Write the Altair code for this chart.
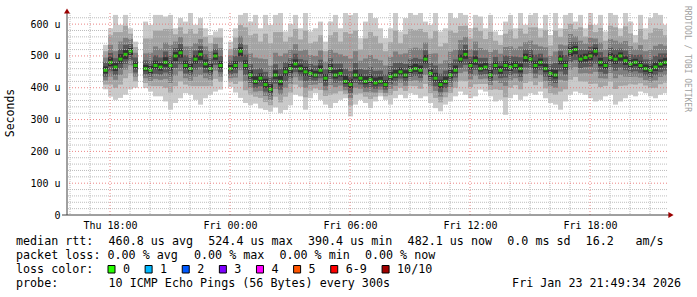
import re
import altair as alt
import pandas as pd

MONO = "DejaVu Sans Mono"

# ---------------- data (microseconds), one column per 15 minutes ----------------
median = [455,480,465,490,505,515,470, None,
 460,455,470,465,480,470,500,510,470,460,490,505,475,460,500,470, None,
 460,470,515,470,440,420,430,410,395,440,420,450,460,
 475,460,450,445,440,455,430,460,440,445,420,410,440,430,420,425,415,420,410,435,440,450,440,455,460,455,490,445,430,410,420,440,455,490,505,470,485,
 460,465,440,470,455,470,465,470,460,495,490,470,480,460,445,440,490,470,515,520,490,495,500,515,480,470,495,490,500,485,475,480,470,460,455,465,475,480]

# lowest and highest ping of each column (absolute)
lo1 = [395,372,362,368,378,395,400, None,
 399,388,373,373,357,331,352,367,383,378,362,347,367,378,388,394, None,
 402,385,368,352,345,350,335,330,325,338,320,330,345,
 378,373,331,367,383,362,347,336,352,362,367,310,347,362,352,336,357,373,362,347,367,378,367,383,378,367,373,352,336,326,347,357,373,388,378,367,373,
 394,388,373,357,362,315,367,378,362,373,383,378,388,367,352,347,331,357,378,388,383,378,367,357,362,373,378,347,357,367,378,373,388,383,373,367,378,383]
hi1 = [535,587,629,598,629,587,545, None,
 608,598,629,629,624,629,587,619,608,635,598,619,587,566,577,587, None,
 545,587,629,635,608,629,587,629,598,629,635,577,600,
 629,587,635,577,587,608,545,608,629,587,635,629,635,556,608,635,619,587,556,587,635,577,619,635,629,635,608,598,635,577,587,635,619,635,629,587,629,
 624,587,629,577,566,608,629,587,635,598,629,635,587,629,566,635,587,629,635,608,629,587,635,598,629,577,635,629,587,635,608,566,629,587,619,635,629,598]

# spread of the inner pings below / above the median
dn2 = [45,70,65,80,75,70,50, None,
 45,50,65,60,80,85,95,90,60,55,85,100,70,55,72,52, None,
 42,58,95,78,62,48,62,55,50,68,66,78,75,
 65,58,80,54,42,62,56,82,58,56,40,66,62,48,48,60,43,36,37,58,50,50,50,50,55,58,78,62,62,56,50,56,55,68,84,68,74,
 48,53,47,75,62,100,65,62,65,80,70,62,62,62,62,62,102,75,90,86,70,76,88,102,78,64,76,94,94,78,64,70,56,53,56,65,64,64]
dn3 = [32,45,40,50,48,45,35, None,
 30,34,42,40,52,55,62,58,40,38,55,65,45,36,46,35, None,
 30,38,60,50,40,32,40,36,34,44,42,50,48,
 42,38,50,36,30,40,38,52,38,38,28,42,40,33,33,39,30,26,26,38,34,34,34,34,37,38,50,40,40,38,34,38,37,44,54,44,47,
 33,36,32,48,40,64,42,40,42,52,45,40,40,40,40,40,65,48,58,55,45,49,56,65,50,41,49,60,60,50,41,45,38,36,38,42,41,41]
dn4 = [20,28,25,30,30,28,22, None,
 18,20,26,24,32,34,38,36,25,22,33,40,28,22,28,21, None,
 18,24,36,30,25,20,25,22,20,27,26,30,29,
 26,24,30,22,18,25,24,32,24,24,17,26,25,20,20,24,18,16,16,24,21,21,21,21,23,24,30,25,25,23,21,23,23,27,33,27,29,
 20,22,20,29,25,38,26,25,26,31,28,25,25,25,25,25,39,29,35,33,28,30,34,39,30,26,30,36,36,30,26,28,23,22,23,26,26,26]
dn5 = [10,12,12,14,15,12,10, None,
 8,10,12,11,14,15,16,15,11,10,14,18,12,10,12,10, None,
 8,11,15,13,11,9,11,10,9,12,12,13,13,
 12,11,13,10,8,11,10,14,11,10,8,12,11,9,9,11,8,7,7,11,9,9,9,9,10,11,13,11,11,10,9,10,10,12,14,12,13,
 9,10,9,13,11,16,12,11,12,14,12,11,11,11,11,11,16,13,15,14,12,13,14,16,13,11,13,15,15,13,11,12,10,10,10,12,11,11]
up5 = [12,15,14,16,14,10,12, None,
 12,14,15,13,16,14,12,13,15,16,12,12,14,15,10,14, None,
 12,14,12,16,15,16,15,18,16,15,18,14,15,
 14,13,16,14,13,15,13,14,16,14,18,18,16,13,16,17,17,15,14,14,16,13,15,15,15,15,13,14,17,15,15,16,15,14,13,13,14,
 15,13,16,12,13,14,15,13,16,12,14,15,12,15,13,16,12,15,13,11,14,12,14,11,14,12,14,14,11,14,14,11,15,13,15,15,14,13]
up4 = [25,30,28,32,30,22,25, None,
 26,30,32,30,34,32,25,28,32,35,27,26,30,32,22,30, None,
 25,30,26,34,34,38,32,40,38,34,40,30,32,
 32,30,36,30,30,33,28,32,36,31,40,42,38,29,36,40,38,34,32,33,38,29,35,35,34,35,28,33,40,34,34,38,34,32,30,28,32,
 34,29,37,27,28,31,34,28,36,26,31,34,27,35,29,38,25,33,29,24,31,24,30,22,32,27,31,31,23,32,30,23,34,29,34,35,33,28]
up3 = [40,55,50,55,52,38,40, None,
 48,55,60,58,62,65,45,50,60,70,50,48,55,55,38,55, None,
 42,55,48,65,68,75,62,80,75,70,80,58,60,
 62,56,70,58,60,62,52,60,70,60,80,82,75,55,72,78,76,66,60,62,74,55,68,68,66,68,52,62,78,66,66,74,65,60,55,52,60,
 65,55,72,50,52,58,65,53,70,48,58,66,50,67,55,74,46,63,54,42,58,44,57,40,62,50,58,58,42,62,56,41,64,55,65,67,62,52]
up2 = [60,85,110,85,90,55,58, None,
 95,100,110,115,105,115,68,80,100,125,80,82,85,80,58,88, None,
 62,88,82,120,125,150,115,160,145,135,155,95,100,
 110,92,130,95,105,110,85,105,135,100,155,160,140,90,135,150,148,120,105,108,140,90,128,130,122,130,85,110,148,120,120,140,118,104,90,85,104,
 118,88,136,78,80,100,118,85,126,75,100,120,78,122,88,140,70,115,86,64,100,66,98,60,108,78,100,100,63,108,96,62,115,92,118,122,110,85]

y_ticks = [0, 100, 200, 300, 400, 500, 600]
x_tick_hours = [(22, 18), (23, 0), (23, 6), (23, 12), (23, 18)]

legend_lines = [
    "median rtt:  460.8 us avg  524.4 us max  390.4 us min  482.1 us now  0.0 ms sd  16.2   am/s",
    "packet loss: 0.00 % avg  0.00 % max  0.00 % min  0.00 % now",
    "loss color:",
    "probe:       10 ICMP Echo Pings (56 Bytes) every 300s",
]
loss_labels = ["0", "1", "2", "3", "4", "5", "6-9", "10/10"]
loss_colors = ["#26ff00", "#00b8ff", "#0059ff", "#7e00ff", "#ff00ff", "#ff5500", "#ff0000", "#a10000"]
stamp = "Fri Jan 23 21:49:34 2026"
watermark = "RRDTOOL / TOBI OETIKER"
smoke_colors = ["#cacaca", "#a4a4a4", "#7e7e7e", "#585858", "#323232"]

# ---------------- build table ----------------
n = len(median)
for a in (lo1, hi1, dn2, dn3, dn4, dn5, up5, up4, up3, up2):
    assert len(a) == n, len(a)

start = pd.Timestamp("2026-01-22 17:39:00")
step = pd.Timedelta(minutes=15)
rows = []
for i in range(n):
    m = median[i]
    if m is None:
        continue
    t0 = start + i * step
    rows.append(dict(t0=t0, t1=t0 + step, tm=t0 + step / 2, med=m,
                     p1=lo1[i], p2=m - dn2[i], p3=m - dn3[i], p4=m - dn4[i], p5=m - dn5[i],
                     p6=m + up5[i], p7=m + up4[i], p8=m + up3[i], p9=m + up2[i], p10=hi1[i]))
df = pd.DataFrame(rows)

xscale = alt.Scale(domain=[alt.DateTime(year=2026, month=1, date=22, hours=15, minutes=51),
                           alt.DateTime(year=2026, month=1, date=23, hours=21, minutes=51)])
yscale = alt.Scale(domain=[0, 635], nice=False, zero=False)

xaxis = alt.Axis(values=[alt.DateTime(year=2026, month=1, date=d, hours=h) for d, h in x_tick_hours],
                 format="%a %H:%M", labelFont=MONO, labelFontSize=10, labelColor="#000",
                 ticks=False, domain=False, grid=False, title=None, labelPadding=5)
yaxis = alt.Axis(values=y_ticks, labelExpr="datum.value == 0 ? '0' : datum.value + ' u'",
                 labelFont=MONO, labelFontSize=10, labelColor="#000",
                 ticks=False, domain=False, grid=False, title=None, labelPadding=7)

layers = []
base = alt.Chart(df)
for k, c in enumerate(smoke_colors, start=1):
    layers.append(base.mark_rect(color=c, clip=True).encode(
        x=alt.X("t0:T", scale=xscale, axis=xaxis), x2="t1:T",
        y=alt.Y(f"p{k}:Q", scale=yscale, axis=yaxis), y2=f"p{11 - k}:Q"))

layers.append(base.mark_tick(color="#26ff00", thickness=3, size=4, orient="horizontal", clip=True).encode(
    x=alt.X("tm:T", scale=xscale, axis=xaxis), y=alt.Y("med:Q", scale=yscale, axis=yaxis)))

# grid (drawn on top, like rrdtool)
hours = pd.date_range("2026-01-22 16:00", "2026-01-23 21:00", freq="h")
gx = pd.DataFrame({"t": hours, "major": [h.hour % 6 == 0 for h in hours]})
gy = pd.DataFrame({"v": list(range(20, 640, 20))})
gy["major"] = gy["v"] % 100 == 0
minor_style = dict(color="#bdbdbd", strokeDash=[1, 1], strokeWidth=1)
major_style = dict(color="#e87070", strokeDash=[1, 2], strokeWidth=1, opacity=0.85)
layers.append(alt.Chart(gx[~gx.major]).mark_rule(**minor_style).encode(x=alt.X("t:T", scale=xscale, axis=xaxis)))
layers.append(alt.Chart(gy[~gy.major]).mark_rule(**minor_style).encode(y=alt.Y("v:Q", scale=yscale, axis=yaxis)))
layers.append(alt.Chart(gx[gx.major]).mark_rule(**major_style).encode(x=alt.X("t:T", scale=xscale, axis=xaxis)))
layers.append(alt.Chart(gy[gy.major]).mark_rule(**major_style).encode(y=alt.Y("v:Q", scale=yscale, axis=yaxis)))

# decorations in pixel space (origin = top-left of plot at 67,13)
OX, OY = 67, 13
one = alt.Chart(pd.DataFrame({"z": [0]}))

def px(x):
    return alt.value(x - OX)

def py(y):
    return alt.value(y - OY)

layers.append(one.mark_rule(color="#404040").encode(x=px(67), y=py(12), y2=py(215)))
layers.append(one.mark_rule(color="#404040").encode(x=px(62), x2=px(669), y=py(215)))
layers.append(one.mark_point(shape="triangle-up", filled=True, size=36, color="#9b0000", opacity=1).encode(x=px(67), y=py(11)))
layers.append(one.mark_point(shape="triangle-right", filled=True, size=36, color="#9b0000", opacity=1).encode(x=px(671), y=py(215)))

def text(s, x, y, size=11.7, color="#000", align="left", baseline="alphabetic", angle=0):
    return one.mark_text(text=s, font=MONO, fontSize=size, color=color, align=align,
                         baseline=baseline, angle=angle).encode(x=px(x), y=py(y))

layers.append(text("Seconds", 11, 113, size=11.5, align="center", baseline="middle", angle=270))
layers.append(text(watermark, 687, 59, size=8, color="#a0a0a0", align="center", baseline="middle", angle=90))

CW = 7.12
X0 = 16
baselines = [245, 259, 273, 287]
for line, yb in zip(legend_lines, baselines):
    for mt in re.finditer(r"\S+(?: \S+)*", line):
        layers.append(text(mt.group(0), X0 + mt.start() * CW, yb))
layers.append(text(stamp, 681, baselines[3], align="right"))

bx = 108.0
for lab, col in zip(loss_labels, loss_colors):
    layers.append(one.mark_rect(fill=col, stroke="#000", strokeWidth=1).encode(
        x=px(bx), x2=px(bx + 7), y=py(265.5), y2=py(273)))
    layers.append(text(lab, bx + 15, baselines[2]))
    bx = bx + 15 + len(lab) * CW + 15

chart = alt.layer(*layers).properties(
    width=600, height=202,
    padding={"left": 67, "top": 13, "right": 30, "bottom": 82},
    autosize=alt.AutoSizeParams(type="none"),
    background="#ffffff",
).configure_view(strokeWidth=0)

chart.save("out.html", embed_options={"renderer": "svg", "actions": False})
